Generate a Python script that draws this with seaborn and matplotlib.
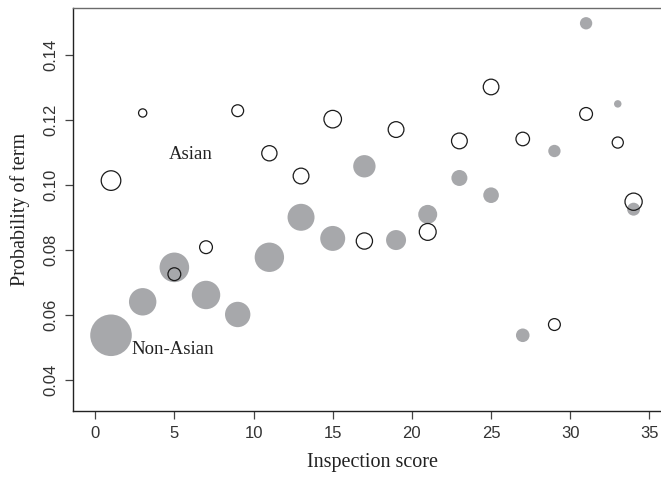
import numpy as np
import pandas as pd
import matplotlib
matplotlib.use("Agg")
import matplotlib.pyplot as plt
import seaborn as sns

# ---- data ----
asian_score = [1, 3, 5, 7, 9, 11, 13, 15, 17, 19, 21, 23, 25, 27, 29, 31, 33, 34]
asian_prob = [0.1014, 0.1222, 0.0726, 0.0809, 0.1229, 0.1098, 0.1028, 0.1203, 0.0828,
              0.1171, 0.0856, 0.1136, 0.1302, 0.1142, 0.0571, 0.1219, 0.1131, 0.0949]
asian_n = [96, 17, 41, 41, 35, 58, 62, 77, 66, 62, 71, 62, 61, 46, 35, 41, 31, 74]

nonasian_score = [1, 3, 5, 7, 9, 11, 13, 15, 17, 19, 21, 23, 25, 27, 29, 31, 33, 34]
nonasian_prob = [0.0538, 0.0641, 0.0747, 0.0662, 0.0602, 0.0778, 0.0901, 0.0836, 0.1058,
                 0.0831, 0.0910, 0.1022, 0.0969, 0.0538, 0.1105, 0.1498, 0.1250, 0.0926]
nonasian_n = [432, 188, 219, 202, 161, 216, 182, 156, 125, 100, 90, 64, 61, 46, 38, 38, 14, 42]

x_ticks = [0, 5, 10, 15, 20, 25, 30, 35]
y_ticks = [0.04, 0.06, 0.08, 0.10, 0.12, 0.14]
y_tick_labels = ["0.04", "0.06", "0.08", "0.10", "0.12", "0.14"]

asian_df = pd.DataFrame({"score": asian_score, "prob": asian_prob, "n": asian_n})
nonasian_df = pd.DataFrame({"score": nonasian_score, "prob": nonasian_prob, "n": nonasian_n})

sns.set_theme(style="white")
plt.rcParams["font.family"] = ["Liberation Serif", "DejaVu Serif"]

W, H = 661, 479
fig = plt.figure(figsize=(W / 100, H / 100), dpi=100)
left_px, right_px, top_px, bottom_px = 73, 671.6, 8, 411
ax = fig.add_axes([left_px / W, (H - bottom_px) / H, (right_px - left_px) / W, (bottom_px - top_px) / H])

vmin, vmax = 14, 432
k = 2.0736
sns.scatterplot(data=nonasian_df, x="score", y="prob", size="n",
                sizes=(k * vmin, k * vmax), size_norm=(vmin, vmax),
                color="#a7a8ab", edgecolor="none", linewidth=0, legend=False, ax=ax, zorder=2)
sns.scatterplot(data=asian_df, x="score", y="prob", size="n",
                sizes=(k * vmin, k * vmax), size_norm=(vmin, vmax),
                color="#1a1a1a", legend=False, ax=ax, zorder=3)
coll = ax.collections[-1]
coll.set_facecolor("none")
coll.set_edgecolor("#1a1a1a")
coll.set_linewidth(0.9)

ax.text(4.68, 0.1079, "Asian", fontsize=13.5, ha="left", va="baseline", color="#222222")
ax.text(2.32, 0.0479, "Non-Asian", fontsize=13.5, ha="left", va="baseline", color="#222222")

ax.set_xlim(-1.4, 36.4)
ax.set_ylim(0.0305, 0.1545)
ax.set_xticks(x_ticks)
ax.set_xticklabels([str(t) for t in x_ticks], fontfamily="Liberation Sans", fontsize=12, color="#333333")
ax.set_yticks(y_ticks)
ax.set_yticklabels(y_tick_labels, fontfamily="Liberation Sans", fontsize=12, color="#333333",
                   rotation=90, va="center")
ax.tick_params(axis="both", direction="out", length=5.5, width=0.9, color="#444444", pad=5,
               bottom=True, left=True)

ax.set_xlabel("Inspection score", fontsize=14.5, labelpad=9, color="#222222")
ax.set_ylabel("Probability of term", fontsize=14.5, labelpad=10, color="#222222")

for side in ["left", "bottom"]:
    ax.spines[side].set_color("#222222")
    ax.spines[side].set_linewidth(1.0)
ax.spines["top"].set_color("#6b6b6b")
ax.spines["top"].set_linewidth(1.0)
ax.spines["right"].set_visible(False)
ax.grid(False)

fig.savefig("out.png", dpi=100)
